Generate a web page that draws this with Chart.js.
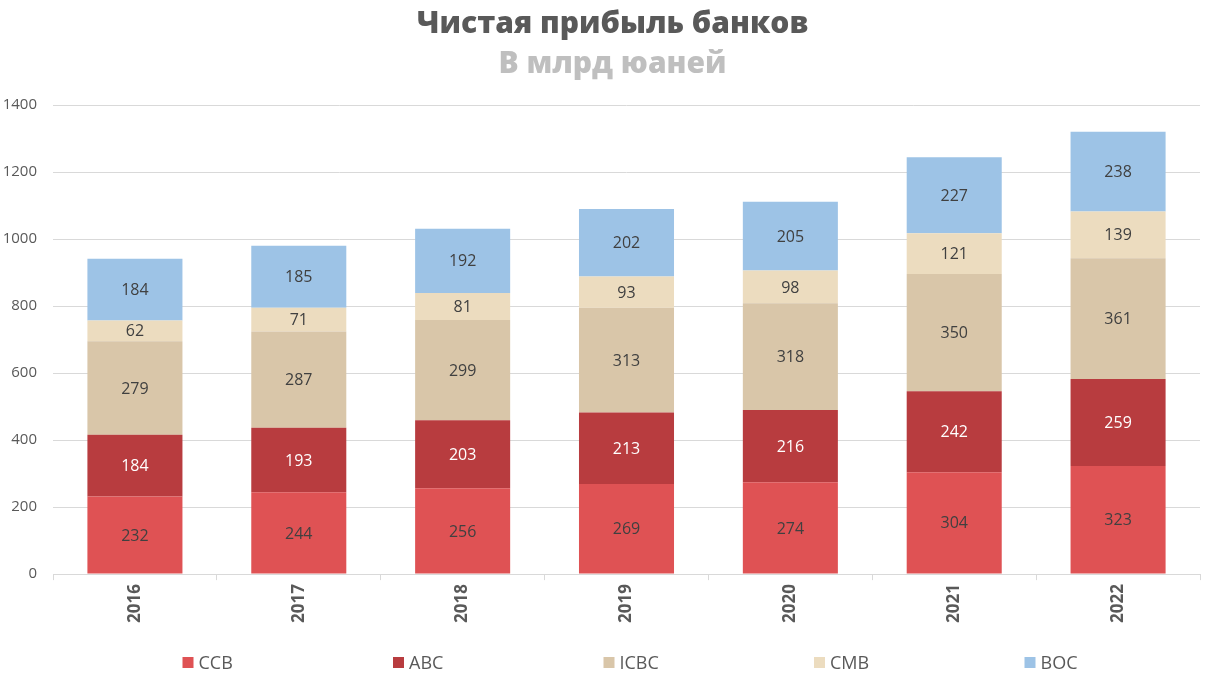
<!DOCTYPE html>
<html lang="ru">
<head>
    <meta charset="UTF-8">
    <title>Чистая прибыль банков</title>
    <style>
        body { margin: 0; background: #fff; }
        #wrap { width: 1225px; height: 691px; }
    </style>
</head>
<body>
    <div id="wrap"><canvas id="myChart" width="1225" height="691"></canvas></div>

    <script src="https://cdn.jsdelivr.net/npm/chart.js@4/dist/chart.umd.min.js"></script>
    <script>
        // data
        var years = ['2016', '2017', '2018', '2019', '2020', '2021', '2022'];
        var ccb  = [232, 244, 256, 269, 274, 304, 323];
        var abc  = [184, 193, 203, 213, 216, 242, 259];
        var icbc = [279, 287, 299, 313, 318, 350, 361];
        var cmb  = [62, 71, 81, 93, 98, 121, 139];
        var boc  = [184, 185, 192, 202, 205, 227, 238];

        var FONT = "'Open Sans', 'Noto Sans', sans-serif";

        // simple inline value labels, centred in each segment
        var valueLabels = {
            id: 'valueLabels',
            afterDatasetsDraw: function (chart) {
                var ctx = chart.ctx;
                ctx.save();
                ctx.font = '16px ' + FONT;
                ctx.textAlign = 'center';
                ctx.textBaseline = 'middle';
                chart.data.datasets.forEach(function (ds, i) {
                    var meta = chart.getDatasetMeta(i);
                    if (meta.hidden) return;
                    ctx.fillStyle = ds.labelColor;
                    meta.data.forEach(function (bar, j) {
                        ctx.fillText(ds.data[j], bar.x, (bar.y + bar.base) / 2 + 1);
                    });
                });
                ctx.restore();
            }
        };

        // legend spread out evenly under the plot (built-in one packs too tight)
        var wideLegend = {
            id: 'wideLegend',
            afterDraw: function (chart) {
                var ctx = chart.ctx;
                var area = chart.chartArea;
                var dsets = chart.data.datasets;
                var step = 210.5;
                var mid = (area.left + area.right) / 2;
                var y = 663;
                ctx.save();
                ctx.font = '18px ' + FONT;
                ctx.textBaseline = 'middle';
                ctx.textAlign = 'left';
                dsets.forEach(function (ds, i) {
                    var x = mid - 23 + (i - (dsets.length - 1) / 2) * step;
                    ctx.fillStyle = ds.backgroundColor;
                    ctx.fillRect(x, y - 6, 11, 11);
                    ctx.fillStyle = '#595959';
                    ctx.fillText(ds.label, x + 16, y + 1);
                });
                ctx.restore();
            }
        };

        function series(label, data, color, labelColor) {
            return {
                label: label,
                data: data,
                backgroundColor: color,
                labelColor: labelColor,
                categoryPercentage: 1,
                barPercentage: 0.58
            };
        }

        var ctx = document.getElementById('myChart').getContext('2d');
        var myChart = new Chart(ctx, {
            type: 'bar',
            data: {
                labels: years,
                datasets: [
                    series('CCB', ccb, '#df5254', '#404040'),
                    series('ABC', abc, '#b83c3f', '#ffffff'),
                    series('ICBC', icbc, '#d9c6a9', '#404040'),
                    series('CMB', cmb, '#ecdcbf', '#404040'),
                    series('BOC', boc, '#9dc3e6', '#404040')
                ]
            },
            options: {
                responsive: false,
                animation: false,
                layout: { padding: { left: 0, right: 0, top: 6, bottom: 64 } },
                plugins: {
                    title: {
                        display: true,
                        text: 'Чистая прибыль банков',
                        color: '#595959',
                        font: { family: FONT, size: 30, weight: 800 },
                        padding: { top: 0, bottom: 4 }
                    },
                    subtitle: {
                        display: true,
                        text: 'В млрд юаней',
                        color: '#bfbfbf',
                        font: { family: FONT, size: 30, weight: 800 },
                        padding: { top: 0, bottom: 23 }
                    },
                    legend: { display: false },
                    tooltip: { enabled: false }
                },
                scales: {
                    x: {
                        stacked: true,
                        grid: {
                            offset: true,
                            drawOnChartArea: false,
                            drawTicks: true,
                            tickLength: 6,
                            color: '#d9d9d9'
                        },
                        border: { color: '#d9d9d9' },
                        ticks: {
                            minRotation: 90,
                            maxRotation: 90,
                            color: '#595959',
                            padding: 4,
                            font: { family: FONT, size: 17, weight: 'bold' }
                        }
                    },
                    y: {
                        stacked: true,
                        min: 0,
                        max: 1400,
                        afterFit: function (scale) { scale.width = 53; },
                        ticks: {
                            stepSize: 200,
                            color: '#595959',
                            padding: 16,
                            font: { family: FONT, size: 15 },
                            callback: function (v) { return String(v); }
                        },
                        grid: { color: '#d9d9d9', drawTicks: false },
                        border: { display: false }
                    },
                    // empty right-hand spacer so the plot stops where the original does
                    ySpace: {
                        position: 'right',
                        afterFit: function (scale) { scale.width = 25; },
                        ticks: { display: false },
                        grid: { display: false },
                        border: { display: false }
                    }
                }
            },
            plugins: [valueLabels, wideLegend]
        });
    </script>
</body>
</html>
